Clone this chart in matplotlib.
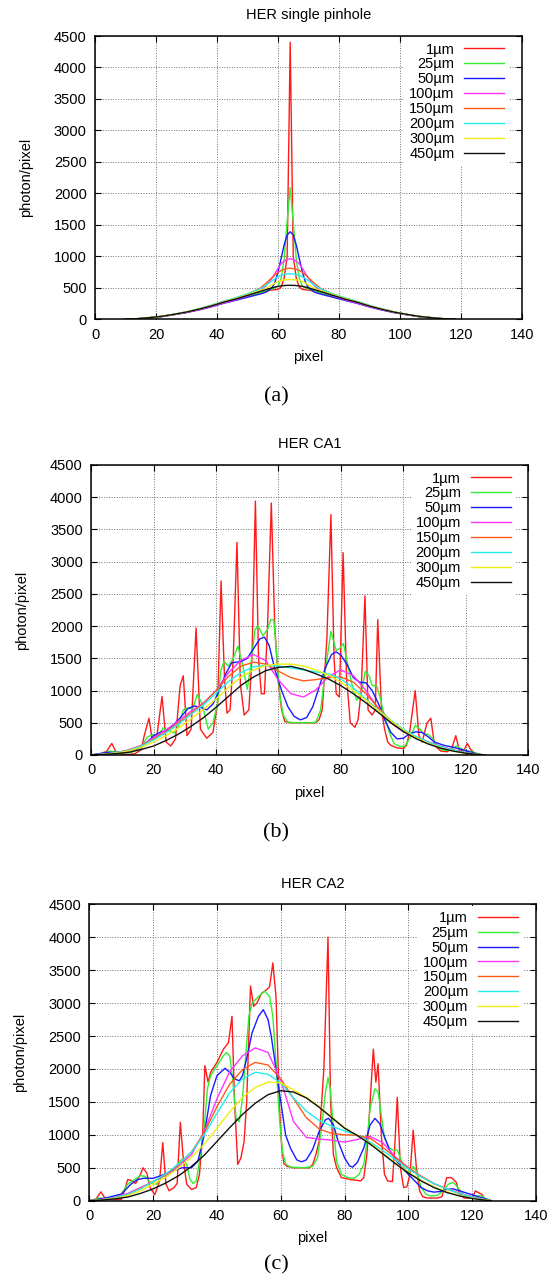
import matplotlib
matplotlib.use('Agg')
import matplotlib.pyplot as plt

plt.rcParams['font.family'] = ['Liberation Sans', 'DejaVu Sans']

LABELS = ['1\u00b5m', '25\u00b5m', '50\u00b5m', '100\u00b5m', '150\u00b5m', '200\u00b5m', '300\u00b5m', '450\u00b5m']
COLORS = ['#ff1a1a', '#33ee33', '#1a1aff', '#ff33ff', '#ff5a1a', '#22eeee', '#eeee11', '#111111']
X_TICKS = [0, 20, 40, 60, 80, 100, 120, 140]
Y_TICKS = [0, 500, 1000, 1500, 2000, 2500, 3000, 3500, 4000, 4500]
TITLES = ['HER single pinhole', 'HER CA1', 'HER CA2']
CAPTIONS = ['(a)', '(b)', '(c)']

# ---------------- panel (a): single pinhole ----------------
A_X = [10, 14, 18, 22, 26, 30, 34, 38, 42, 46, 50, 54, 56, 58, 59, 60, 61, 62, 63, 64,
       65, 66, 67, 68, 69, 70, 72, 74, 78, 82, 86, 90, 94, 98, 102, 106, 110, 114, 118]
A_1 = [3, 10, 26, 46, 78, 112, 155, 205, 262, 315, 370, 420, 445, 465, 470, 475, 510, 650, 1000, 4400,
       1000, 650, 510, 475, 470, 465, 445, 420, 370, 315, 262, 205, 155, 112, 78, 46, 26, 10, 3]
A_25 = [3, 10, 26, 46, 78, 112, 155, 205, 262, 315, 370, 420, 450, 480, 500, 530, 640, 950, 1550, 2090,
        1550, 950, 640, 530, 500, 480, 450, 420, 370, 315, 262, 205, 155, 112, 78, 46, 26, 10, 3]
A_50 = [3, 9, 25, 44, 74, 107, 148, 196, 252, 300, 350, 400, 430, 500, 590, 750, 960, 1180, 1340, 1390,
        1340, 1180, 960, 750, 590, 500, 430, 400, 350, 300, 252, 196, 148, 107, 74, 44, 25, 9, 3]
A_100 = [3, 9, 25, 45, 76, 110, 152, 200, 258, 310, 375, 450, 530, 650, 730, 810, 880, 925, 950, 960,
         950, 925, 880, 810, 730, 650, 530, 450, 375, 310, 258, 200, 152, 110, 76, 45, 25, 9, 3]
A_150 = [3, 10, 27, 48, 80, 118, 165, 218, 280, 335, 400, 490, 570, 660, 705, 745, 775, 795, 805, 810,
         805, 795, 775, 745, 705, 660, 570, 490, 400, 335, 280, 218, 165, 118, 80, 48, 27, 10, 3]
A_200 = [3, 10, 27, 48, 82, 120, 168, 222, 285, 340, 405, 480, 540, 610, 645, 675, 700, 712, 720, 722,
         720, 712, 700, 675, 645, 610, 540, 480, 405, 340, 285, 222, 168, 120, 82, 48, 27, 10, 3]
A_300 = [3, 10, 27, 48, 80, 117, 163, 214, 276, 330, 392, 455, 490, 545, 575, 600, 615, 625, 630, 630,
         630, 625, 615, 600, 575, 545, 490, 455, 392, 330, 276, 214, 163, 117, 80, 48, 27, 10, 3]
A_450 = [3, 10, 27, 48, 80, 115, 160, 210, 270, 320, 380, 440, 470, 500, 512, 522, 530, 536, 539, 540,
         539, 536, 530, 522, 512, 500, 470, 440, 380, 320, 270, 210, 160, 115, 80, 48, 27, 10, 3]

# shared x grid for the smooth curves of panels (b) and (c)
X4 = [0, 4, 8, 12, 16, 20, 24, 28, 32, 36, 40, 44, 48, 52, 56, 60, 64, 68, 72, 76, 80, 84,
      88, 92, 96, 100, 104, 108, 112, 116, 120, 124, 126]

# ---------------- panel (b): CA1 ----------------
B_1_X = [0, 3, 5, 6.6, 8, 10, 12, 14, 16, 17, 18.5, 19.5, 21, 22.7, 24, 25.5, 27, 28.5, 29.5, 30.7,
         32, 33.6, 35, 37, 39, 40.5, 41.6, 42.7, 43.5, 44.5, 45.5, 46.7, 47.8, 49, 50.5, 51.5, 52.6,
         53.6, 54.5, 55.5, 56.5, 57.7, 58.8, 60, 61, 62, 64, 68, 72, 73, 74, 75.5, 76.8, 77.8, 78.5,
         79.5, 80.7, 81.8, 83, 84.5, 85.5, 86.5, 87.7, 88.7, 90, 91, 91.8, 93, 94, 95, 96, 98, 100,
         101, 102, 103.8, 105, 106, 107.6, 108.8, 110, 112, 114, 115.5, 116.8, 118, 119.5, 120.5,
         121.5, 123, 125, 126]
B_1_Y = [0, 20, 60, 180, 40, 10, 10, 20, 80, 300, 570, 250, 280, 910, 200, 140, 250, 1080, 1230, 300,
         400, 1970, 400, 260, 350, 800, 2700, 1200, 650, 700, 1500, 3300, 1100, 620, 700, 1500, 3940,
         1500, 950, 950, 2000, 3910, 2000, 1100, 700, 520, 500, 500, 500, 550, 700, 1800, 3730, 1500,
         950, 900, 3140, 1200, 500, 430, 550, 1000, 2470, 700, 620, 700, 2100, 700, 400, 200, 150, 110,
         100, 150, 350, 1000, 300, 200, 500, 570, 150, 60, 50, 100, 300, 60, 80, 180, 90, 20, 5, 0]
B_25_X = [0, 3, 6, 8, 10, 13, 16, 18, 20, 21.5, 23, 25, 26.5, 28, 29.5, 31, 32.5, 34, 35.5, 37.5, 39,
          40.5, 41.5, 42.5, 44, 45.5, 47, 48.5, 50, 51, 52.5, 53.5, 55, 56.5, 57.5, 58.5, 59.5, 60.5,
          61.5, 63, 66, 70, 72, 73.5, 75, 76.8, 78.5, 79.5, 80.8, 82, 83.5, 85, 86.5, 87.8, 89, 90,
          91.5, 92.5, 94, 95.5, 97, 99, 100.5, 102, 103.8, 105, 106.5, 108, 109.5, 111, 113, 115, 117,
          118.5, 120, 122, 124, 126]
B_25_Y = [0, 20, 60, 50, 30, 40, 120, 280, 320, 300, 420, 380, 340, 450, 700, 730, 720, 940, 800, 400,
          500, 800, 1300, 1450, 1380, 1500, 1690, 1400, 1020, 1350, 1950, 2000, 1850, 1950, 2100, 2100,
          1500, 900, 620, 510, 500, 500, 510, 700, 1300, 1920, 1620, 1650, 1730, 1450, 1100, 850, 950,
          1300, 1230, 1080, 1070, 900, 600, 350, 180, 130, 140, 250, 460, 420, 330, 320, 250, 120, 70,
          80, 140, 100, 70, 50, 20, 0]
B_50_X = [0, 5, 10, 15, 18, 20, 22, 25, 28, 31, 33, 35, 37, 39, 41, 43, 45, 48, 50, 52, 54, 55.5, 57,
          58, 59, 61, 63, 65, 67, 69, 71, 73, 75, 77, 78.5, 80, 82, 84, 86, 88, 90, 92, 94, 96, 98,
          100, 102, 104, 106, 108, 110, 113, 116, 119, 122, 124, 126]
B_50_Y = [0, 40, 40, 100, 200, 300, 350, 400, 550, 720, 760, 740, 700, 790, 1000, 1250, 1430, 1450,
          1500, 1650, 1800, 1830, 1700, 1500, 1300, 1000, 750, 600, 545, 580, 750, 1050, 1350, 1560,
          1600, 1550, 1400, 1200, 1130, 1120, 1000, 800, 550, 350, 250, 260, 330, 360, 350, 280, 200,
          150, 120, 80, 40, 10, 0]
B_100 = [0, 12, 35, 80, 150, 270, 390, 530, 680, 810, 1000, 1280, 1470, 1560, 1460, 1160, 950, 900,
         1010, 1220, 1320, 1230, 1000, 720, 500, 360, 280, 205, 135, 80, 38, 10, 0]
B_150 = [0, 12, 35, 75, 145, 250, 360, 500, 650, 800, 1000, 1220, 1380, 1440, 1410, 1300, 1200, 1150,
         1170, 1200, 1210, 1130, 950, 730, 530, 385, 280, 195, 125, 70, 32, 8, 0]
B_200 = [0, 12, 35, 70, 140, 235, 345, 480, 630, 780, 960, 1140, 1280, 1370, 1390, 1380, 1350, 1320,
         1290, 1260, 1180, 1040, 870, 700, 540, 400, 290, 200, 130, 75, 35, 10, 0]
B_300 = [0, 10, 30, 60, 120, 200, 300, 420, 560, 710, 870, 1050, 1210, 1320, 1390, 1410, 1410, 1380,
         1320, 1240, 1130, 1000, 850, 690, 530, 385, 270, 180, 110, 60, 28, 8, 0]
B_450 = [0, 8, 22, 42, 85, 140, 225, 325, 445, 580, 740, 910, 1080, 1210, 1310, 1360, 1375, 1330,
         1260, 1180, 1075, 950, 810, 660, 500, 365, 255, 170, 105, 60, 28, 8, 0]

# ---------------- panel (c): CA2 ----------------
C_1_X = [0, 2, 3.6, 5, 7, 10, 11, 12, 13, 14.5, 16, 16.8, 18, 19, 20.5, 22, 23, 24, 25, 26.5, 27.5,
         28.5, 29.5, 30.5, 32, 33.5, 34.5, 35.5, 36.2, 37.2, 38, 40, 42, 43.6, 44.7, 45.5, 46.5, 47.5,
         48.5, 49.3, 50.5, 51.5, 52.5, 54, 55.5, 56.5, 57.5, 58.5, 59.5, 60.3, 61, 62, 64, 69, 70,
         71, 72, 73.5, 74.8, 75.6, 76.5, 77.5, 79, 82, 85, 86, 87, 88, 89, 89.8, 90.5, 91.5, 92.5,
         93.5, 95, 95.7, 96.5, 97.5, 98.5, 99.5, 100.5, 101.5, 102.5, 103.5, 104.5, 106, 109, 110.5,
         112, 113.5, 115, 116, 117.5, 120, 121, 122, 123, 124, 126]
C_1_Y = [0, 20, 135, 30, 15, 20, 150, 320, 310, 260, 400, 500, 420, 200, 90, 300, 880, 250, 150, 200,
         260, 1190, 600, 250, 170, 200, 400, 1000, 2050, 1800, 1950, 2100, 2300, 2400, 2800, 1500, 550,
         650, 900, 1500, 3260, 2950, 3000, 3150, 3200, 3250, 3610, 3100, 1500, 800, 560, 520, 500, 500,
         550, 700, 900, 2000, 4000, 1500, 700, 500, 350, 320, 300, 350, 700, 1500, 2300, 1800, 2080,
         1000, 400, 300, 290, 800, 1570, 500, 200, 210, 400, 1070, 500, 150, 60, 40, 40, 60, 350, 350,
         280, 100, 40, 40, 150, 120, 100, 20, 0]
C_25_X = [0, 3, 5, 8, 10, 12, 14, 16, 17.5, 19, 21, 23, 25, 27, 29, 30.5, 31.5, 32.5, 33.5, 34.5, 36,
          37, 38, 40, 42, 43, 44, 45, 46, 47, 48, 49, 50, 51, 53, 55, 56.5, 57.5, 58.5, 59.5, 60.5,
          61.5, 63, 67, 70, 71.5, 72.5, 74, 74.8, 75.5, 76.5, 77.5, 79, 81, 83, 84.5, 86, 87, 88, 89.5,
          90.5, 91.5, 92.5, 94, 95.5, 96.5, 97.5, 99, 100.5, 101.5, 102.5, 104, 105.5, 107, 109, 111,
          112.5, 114, 115.5, 117, 119, 121, 122.5, 124, 126]
C_25_Y = [0, 40, 30, 40, 100, 250, 320, 380, 370, 280, 250, 380, 400, 520, 630, 550, 330, 260, 300, 600,
          1100, 1700, 1900, 2050, 2200, 2250, 2200, 1800, 1250, 1200, 1550, 2200, 2800, 3000, 3100, 3180,
          3100, 2800, 2100, 1300, 750, 560, 510, 500, 520, 650, 1000, 1650, 1870, 1700, 1100, 600, 400,
          350, 340, 400, 550, 900, 1400, 1700, 1650, 1300, 950, 800, 760, 770, 650, 450, 450, 520, 450,
          200, 100, 70, 80, 150, 250, 280, 200, 100, 50, 60, 80, 40, 0]
C_50_X = [0, 5, 10, 13, 15, 17, 20, 23, 26, 29, 32, 34, 36, 38, 40, 42.5, 44, 45.5, 47, 48, 49.5, 51,
          53, 54.5, 56, 57, 58.5, 60, 61.5, 63, 65, 66.5, 68, 70, 72, 74, 75, 76.5, 78, 80, 81.5, 82.5,
          84, 86, 88, 89.5, 91, 92.5, 94, 96, 98, 100, 102, 104, 106, 108, 110, 112, 114, 116, 118,
          120, 122, 124, 126]
C_50_Y = [0, 40, 100, 250, 320, 340, 340, 390, 450, 500, 500, 600, 1000, 1600, 1900, 2010, 1950, 1850,
          1820, 1900, 2200, 2550, 2800, 2900, 2750, 2500, 2000, 1500, 1000, 800, 620, 590, 620, 780,
          1050, 1230, 1250, 1150, 900, 650, 530, 510, 580, 800, 1150, 1250, 1170, 970, 780, 620, 500,
          400, 300, 200, 150, 130, 140, 170, 180, 150, 120, 90, 60, 30, 0]
C_100 = [0, 18, 50, 110, 200, 290, 390, 530, 700, 1050, 1550, 1960, 2200, 2320, 2250, 1830, 1200, 960,
         935, 920, 890, 930, 975, 880, 660, 500, 370, 260, 180, 115, 60, 18, 0]
C_150 = [0, 15, 45, 95, 185, 290, 400, 550, 740, 1030, 1430, 1770, 1990, 2100, 2060, 1850, 1550, 1260,
         1090, 1020, 1000, 990, 950, 810, 650, 500, 370, 260, 180, 110, 55, 15, 0]
C_200 = [0, 15, 45, 95, 180, 290, 410, 560, 740, 1000, 1330, 1640, 1850, 1950, 1920, 1790, 1560, 1360,
         1220, 1130, 1060, 990, 890, 760, 620, 480, 360, 260, 180, 110, 55, 15, 0]
C_300 = [0, 12, 35, 75, 150, 250, 360, 500, 660, 860, 1100, 1350, 1570, 1720, 1800, 1790, 1680, 1570,
         1430, 1270, 1110, 990, 870, 720, 570, 430, 310, 210, 135, 78, 38, 10, 0]
C_450 = [0, 10, 28, 55, 110, 180, 270, 380, 520, 690, 900, 1110, 1310, 1480, 1610, 1670, 1650, 1560,
         1420, 1260, 1100, 990, 860, 710, 560, 420, 300, 200, 125, 72, 34, 8, 0]

PANEL_A = [(A_X, A_1), (A_X, A_25), (A_X, A_50), (A_X, A_100), (A_X, A_150), (A_X, A_200),
           (A_X, A_300), (A_X, A_450)]
PANEL_B = [(B_1_X, B_1_Y), (B_25_X, B_25_Y), (B_50_X, B_50_Y), (X4, B_100), (X4, B_150), (X4, B_200),
           (X4, B_300), (X4, B_450)]
PANEL_C = [(C_1_X, C_1_Y), (C_25_X, C_25_Y), (C_50_X, C_50_Y), (X4, C_100), (X4, C_150), (X4, C_200),
           (X4, C_300), (X4, C_450)]

W, H = 552, 1280
# axes boxes in pixels: left, top, right, bottom
BOXES = [(95, 36, 522, 319.3), (91.2, 465, 528.2, 755), (89.4, 904.3, 536, 1200.7)]
LEG_X = [0.970, 0.9716, 0.9705]
CAP_Y = [397, 833, 1265]

fig = plt.figure(figsize=(W / 100, H / 100), dpi=100)
FS = 10.5

for i, panel in enumerate([PANEL_A, PANEL_B, PANEL_C]):
    l, t, r, b = BOXES[i]
    ax = fig.add_axes([l / W, 1 - b / H, (r - l) / W, (b - t) / H])
    for (xs, ys), lab, col in zip(panel, LABELS, COLORS):
        assert len(xs) == len(ys), (i, lab, len(xs), len(ys))
        ax.plot(xs, ys, color=col, lw=1.0, label=lab)
    ax.set_xlim(0, 140)
    ax.set_ylim(0, 4500)
    ax.set_xticks(X_TICKS)
    ax.set_yticks(Y_TICKS)
    ax.tick_params(direction='in', length=4.3, width=0.8, top=True, right=True,
                   labelsize=FS, pad=6)
    ax.grid(True, color='#707070', linestyle=(0, (1, 1.6)), linewidth=0.7)
    for s in ax.spines.values():
        s.set_linewidth(1.1)
    ax.set_title(TITLES[i], fontsize=FS, pad=12)
    ax.set_xlabel('pixel', fontsize=FS, labelpad=6)
    ax.set_ylabel('photon/pixel', fontsize=FS, labelpad=15)
    leg = ax.legend(loc='upper right', bbox_to_anchor=(LEG_X[i], 0.995), markerfirst=False,
                    frameon=True, fancybox=False, edgecolor='none', facecolor='white',
                    framealpha=1, fontsize=FS, handlelength=2.75, handletextpad=0.65,
                    labelspacing=0.06, borderpad=0.35, borderaxespad=0)
    fig.text(0.5, 1 - CAP_Y[i] / H, CAPTIONS[i], ha='center', va='center',
             family='Liberation Serif', fontsize=16)

fig.savefig('out.png', dpi=100)
